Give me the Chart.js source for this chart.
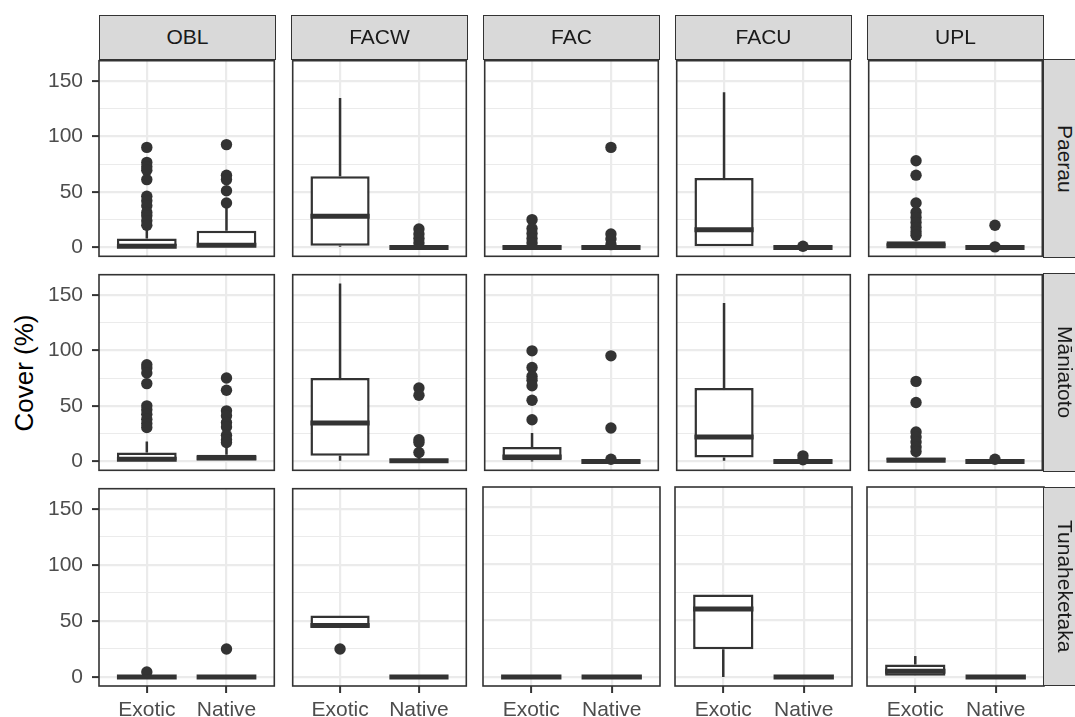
<!DOCTYPE html>
<html><head><meta charset="utf-8">
<script src="https://cdn.jsdelivr.net/npm/chart.js@4.4.1/dist/chart.umd.min.js"></script>
<style>
html,body{margin:0;padding:0;background:#fff;}
body{width:1075px;height:717px;overflow:hidden;position:relative;font-family:'Liberation Sans',Arial,sans-serif;}
canvas{position:absolute;}
.strip{position:absolute;box-sizing:border-box;background:#d9d9d9;border:1.5px solid #333;color:#1a1a1a;font-size:21px;display:flex;align-items:center;justify-content:center;}
.rstrip{writing-mode:vertical-rl;}
#ytitle{position:absolute;font-size:26px;color:#000;transform:translate(-50%,-50%) rotate(-90deg);white-space:nowrap;left:24px;top:373px;}
</style></head><body>
<div id="ytitle">Cover (%)</div>
<script>
// ---- categories & ticks ----
const sites = ['Paerau', 'Māniatoto', 'Tunaheketaka'];
const classes = ['OBL', 'FACW', 'FAC', 'FACU', 'UPL'];
const origins = ['Exotic', 'Native'];
const yMajor = [0, 50, 100, 150];
const yMinor = [25, 75, 125];
const yRange = [-8, 168];

// ---- box summaries: [lower whisker, Q1, median, Q3, upper whisker], one per class ----
const paerauExotic = [[0,0,1,8,18],[0.5,1.5,28,64,134.5],[0,0,0,0.5,1],[0,0,16,62.5,139.5],[0,0,1.5,5.5,10]];
const paerauNative = [[0,0,2,15,37],[0,0,0,1,1],[0,0,0,0.5,1],[0,0,0,0.5,1],[0,0,0,0.5,1]];
const maniatotoExotic = [[0,0,2,8,18],[0.5,5,34.5,75,160],[0,1,4,13,25.5],[0.5,3.5,22,66,142.5],[0,0,1,3.5,8]];
const maniatotoNative = [[0,0,3,6,12],[0,0,0.5,2,4],[0,0,0,0.5,1],[0,0,0,0.5,1],[0,0,0,0.5,1]];
const tunaExotic = [[0,0,0,0,0],[44,44,46,55,55],[0,0,0,0,0],[0,24.5,60,73,73],[0,0,5,11,18.5]];
const tunaNative = [[0,0,0,0,0],[0,0,0,0,0],[0,0,0,0,0],[0,0,0,0,0],[0,0,0,0,0]];

// ---- outliers, one list per class ----
const paerauExoticOut = [[90,76.5,72.5,69.5,61,46,42,37.5,31.5,28.5,24,20],[],[25,17,12.5,8,4],[],[78,65,40,31.5,27,22.5,18,14,11]];
const paerauNativeOut = [[92.5,65,61,51,40],[16.5,12,8,4],[90,12,7.5,2.5],[1],[20,0.5]];
const maniatotoExoticOut = [[87,84,79.5,70,50,46.5,42.5,38,34,30.5],[],[99.5,84.5,76.5,73,68,55,37.5],[],[72,53,26.5,22,17.5,13,9]];
const maniatotoNativeOut = [[75,64,45.5,41,35,31,23.5,19.5,17],[66,59.5,19.5,17,8],[95,30,2],[5,1.5],[2]];
const tunaExoticOut = [[4.5],[25],[],[],[]];
const tunaNativeOut = [[25],[],[],[],[]];

const stats = [[paerauExotic, paerauNative],[maniatotoExotic, maniatotoNative],[tunaExotic, tunaNative]];
const outs = [[paerauExoticOut, paerauNativeOut],[maniatotoExoticOut, maniatotoNativeOut],[tunaExoticOut, tunaNativeOut]];

// ---- layout / style ----
const colLeft = [99, 291, 483, 675, 867];
const rowTop = [59, 273, 487];
const PW = 177, PH = 199;
const BOX_W = 0.75;
const INK = '#333333';
const GRID = '#ebebeb';
const FONT = "'Liberation Sans', Arial, sans-serif";
Chart.defaults.font.family = FONT;

const frame = {id:'frame', afterDraw(chart){
  const a = chart.chartArea, g = chart.ctx;
  g.save(); g.strokeStyle = INK; g.lineWidth = 1.6;
  g.strokeRect(a.left, a.top, a.right - a.left, a.bottom - a.top); g.restore();
}};

function isMajor(v){ return yMajor.indexOf(v) >= 0; }

function makePanel(r, c){
  const L = c === 0 ? colLeft[0] : 4;
  const B = r === 2 ? 717 - (rowTop[r] + PH) : 4;
  const T = 4, R = 4;
  const w = PW + L + R, h = PH + T + B;
  const cv = document.createElement('canvas');
  cv.width = w; cv.height = h;
  cv.style.left = (colLeft[c] - L) + 'px'; cv.style.top = (rowTop[r] - T) + 'px';
  cv.style.width = w + 'px'; cv.style.height = h + 'px';
  document.body.appendChild(cv);

  const datasets = [];
  datasets.push({type:'bar', order:2,
    data: origins.map((o, i) => { const s = stats[r][i][c]; return {x: i + 1, y: [s[1], s[3]]}; }),
    backgroundColor:'#ffffff', borderColor:INK, borderWidth:2.5, borderSkipped:false,
    categoryPercentage:1, barPercentage:BOX_W, inflateAmount:0});
  origins.forEach((o, i) => {
    const s = stats[r][i][c]; const x = i + 1;
    const ls = {type:'line', order:3, borderColor:INK, borderWidth:2.5, pointRadius:0, fill:false, tension:0};
    datasets.push(Object.assign({data:[{x, y:s[3]},{x, y:s[4]}]}, ls));
    datasets.push(Object.assign({data:[{x, y:s[1]},{x, y:s[0]}]}, ls));
    datasets.push({type:'line', order:1, data:[{x:x - BOX_W/2, y:s[2]},{x:x + BOX_W/2, y:s[2]}],
      borderColor:INK, borderWidth:5, pointRadius:0, fill:false, borderCapStyle:'butt'});
    datasets.push({type:'scatter', order:4, data: outs[r][i][c].map(v => ({x, y:v})),
      pointRadius:5.7, pointBackgroundColor:INK, pointBorderWidth:0, backgroundColor:INK, borderColor:INK});
  });

  new Chart(cv, {
    type:'bar',
    data:{datasets},
    plugins:[frame],
    options:{
      responsive:false, animation:false, events:[],
      layout:{padding:{left: c === 0 ? 0 : L, right:R, top:T, bottom: r === 2 ? 0 : B}},
      plugins:{legend:{display:false}, tooltip:{enabled:false}, title:{display:false}},
      scales:{
        x:{type:'linear', min:0.4, max:2.6, offset:false,
          afterBuildTicks: s => { s.ticks = origins.map((o, i) => ({value: i + 1})); },
          afterFit: s => { s.height = r === 2 ? B : 0; s.paddingLeft = 0; s.paddingRight = 0; },
          grid:{color:GRID, lineWidth:2.2, offset:false, drawTicks: r === 2, tickLength:7, tickColor:INK, tickWidth:2},
          border:{display:false},
          ticks:{display: r === 2, padding:5, color:'#4d4d4d', font:{family:FONT, size:21},
            maxRotation:0, autoSkip:false, callback: v => origins[Math.round(v) - 1] || ''}
        },
        y:{type:'linear', min:yRange[0], max:yRange[1],
          afterBuildTicks: s => { s.ticks = yMajor.concat(yMinor).sort((a, b) => a - b).map(v => ({value:v})); },
          afterFit: s => { s.width = c === 0 ? L : 0; s.paddingTop = 0; s.paddingBottom = 0; },
          grid:{color:GRID, lineWidth: ctx => (ctx.tick && isMajor(ctx.tick.value)) ? 2.2 : 1.1,
            drawTicks: c === 0, tickLength:7, tickWidth:2,
            tickColor: ctx => (ctx.tick && isMajor(ctx.tick.value)) ? INK : 'rgba(0,0,0,0)'},
          border:{display:false},
          ticks:{display: c === 0, padding:9, color:'#4d4d4d', font:{family:FONT, size:21},
            autoSkip:false, callback: v => isMajor(v) ? String(v) : ''}
        }
      }
    }
  });
}

for (let r = 0; r < sites.length; r++) for (let c = 0; c < classes.length; c++) makePanel(r, c);

// strips
classes.forEach((name, c) => {
  const d = document.createElement('div'); d.className = 'strip'; d.textContent = name;
  d.style.left = colLeft[c] + 'px'; d.style.top = '15px'; d.style.width = PW + 'px'; d.style.height = '44.8px';
  document.body.appendChild(d);
});
sites.forEach((name, r) => {
  const d = document.createElement('div'); d.className = 'strip rstrip'; d.textContent = name;
  d.style.left = (colLeft[4] + PW - 0.8) + 'px'; d.style.top = rowTop[r] + 'px'; d.style.width = '44px'; d.style.height = PH + 'px';
  document.body.appendChild(d);
});
</script>
</body></html>
